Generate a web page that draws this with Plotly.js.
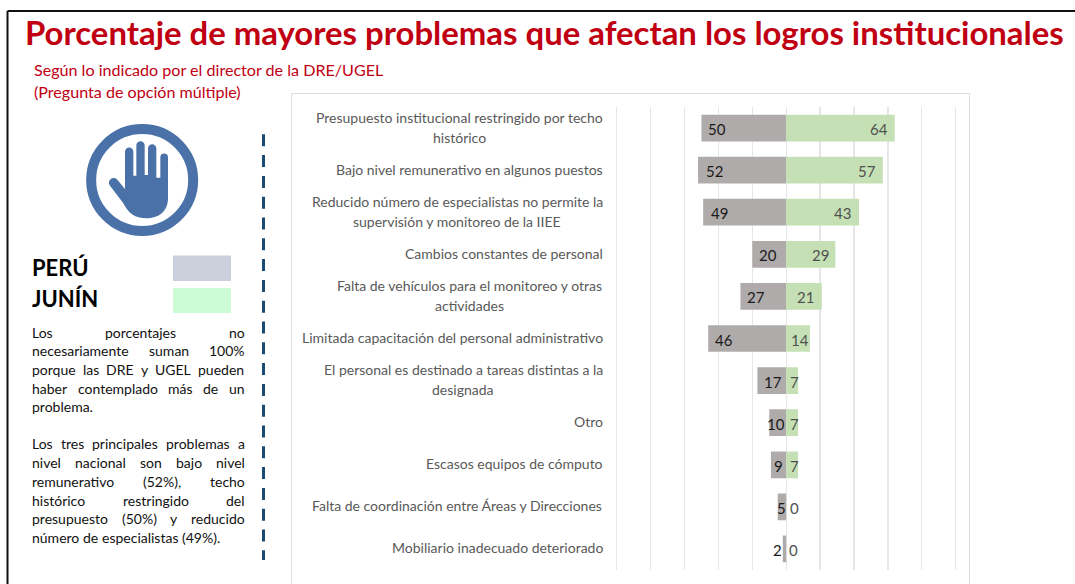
<!DOCTYPE html>
<html>
<head>
<meta charset="utf-8">
<script src="https://cdn.plot.ly/plotly-3.0.1.min.js"></script>
<style>
  html, body { margin: 0; padding: 0; background: #fff; }
</style>
</head>
<body>
<div id="chart" style="width:1075px;height:584px;"></div>
<script>
// chart values, top to bottom
var categories = [
  "Presupuesto institucional restringido por techo<br>histórico",
  "Bajo nivel remunerativo en algunos puestos",
  "Reducido número de especialistas no permite la<br>supervisión y monitoreo de la IIEE",
  "Cambios constantes de personal",
  "Falta de vehículos para el monitoreo y otras<br>actividades",
  "Limitada capacitación del personal administrativo",
  "El personal es destinado a tareas distintas a la<br>designada",
  "Otro",
  "Escasos equipos de cómputo",
  "Falta de coordinación entre Áreas y Direcciones",
  "Mobiliario inadecuado deteriorado"
];
var peru = [50, 52, 49, 20, 27, 46, 17, 10, 9, 5, 2];
var junin = [64, 57, 43, 29, 21, 14, 7, 7, 7, 0, 0];

// where the value labels sit relative to the bar end, in px (hand placed in the original)
var peruShift = [16, 16, 16, 16, 16, 16, 16, 7, 8, 4, -5];
var juninShift = [-16, -16, -17, -15, -16, -10, -4, -4, -4, 8, 7];

var titleText = "Porcentaje de mayores problemas que afectan los logros institucionales";
var subtitleLines = ["Según lo indicado por el director de la DRE/UGEL", "(Pregunta de opción múltiple)"];

// last line of each paragraph is not justified
var noteLines = [
  "Los porcentajes no",
  "necesariamente suman 100%",
  "porque las DRE y UGEL pueden",
  "haber contemplado más de un",
  "problema.",
  "Los tres principales problemas a",
  "nivel nacional son bajo nivel",
  "remunerativo (52%), techo",
  "histórico restringido del",
  "presupuesto (50%) y reducido",
  "número de especialistas (49%)."
];
var noteY = [332, 350.5, 369, 388, 406.5, 443.5, 462, 481, 500, 518.5, 537.5];

var W = 1075, H = 584;
var FONT = "Lato";
var RED = "#C00012";
var labelColor = "#595959";

function px(x) { return x / W; }
function py(y) { return 1 - y / H; }

var canvas = document.createElement("canvas").getContext("2d");
function textWidth(s, size) {
  canvas.font = size + "px " + FONT;
  return canvas.measureText(s).width;
}

function pageText(text, x, y, size, color, anchor, bold) {
  return {
    xref: "paper", yref: "paper", x: px(x), y: py(y),
    text: bold ? "<b>" + text + "</b>" : text,
    showarrow: false, xanchor: anchor || "left", yanchor: "middle",
    font: {family: FONT, size: size, color: color}
  };
}

var annotations = [];

annotations.push(pageText(titleText, 544, 33, 32.9, RED, "center", true));
annotations.push(pageText(subtitleLines[0], 32, 69.5, 16.1, RED));
annotations.push(pageText(subtitleLines[1], 32, 92, 16.1, RED));
annotations.push(pageText("PERÚ", 30, 267, 22, "#000", "left", true));
annotations.push(pageText("JUNÍN", 30, 298, 22, "#000", "left", true));

// justified note text, word by word
var noteSize = 14;
var noteLeft = 30, noteRight = 242.5;
noteLines.forEach(function (line, i) {
  var words = line.split(" ");
  var stretch = i != 4 && i != 10;
  var total = words.reduce(function (sum, w) { return sum + textWidth(w, noteSize); }, 0);
  var gap = stretch ? (noteRight - noteLeft - total) / (words.length - 1) : textWidth(" ", noteSize);
  var x = noteLeft;
  words.forEach(function (w) {
    annotations.push(pageText(w, x, noteY[i], noteSize, "#111"));
    x += textWidth(w, noteSize) + gap;
  });
});

// category labels: block ends at x=603, wrapped lines centred on each other
var labelSize = 14;
categories.forEach(function (cat, i) {
  var lines = cat.split("<br>");
  var widest = Math.max.apply(null, lines.map(function (l) { return textWidth(l, labelSize); }));
  lines.forEach(function (l, j) {
    annotations.push({
      xref: "paper", yref: "y", x: px(603 - widest / 2), y: cat,
      yshift: lines.length > 1 ? (j == 0 ? 11 : -9) : 1,
      text: l, showarrow: false, xanchor: "center", yanchor: "middle",
      font: {family: FONT, size: labelSize, color: labelColor}
    });
  });
});

// value labels
categories.forEach(function (cat, i) {
  annotations.push({
    x: -peru[i], y: cat, xref: "x", yref: "y", xshift: peruShift[i], yshift: -1,
    text: String(peru[i]), showarrow: false, xanchor: "center", yanchor: "middle",
    font: {family: FONT, size: 15, color: "#1a1a1a"}
  });
  annotations.push({
    x: junin[i], y: cat, xref: "x", yref: "y", xshift: juninShift[i], yshift: -1,
    text: String(junin[i]), showarrow: false, xanchor: "center", yanchor: "middle",
    font: {family: FONT, size: 15, color: "#505050"}
  });
});

function pageRect(x0, y0, x1, y1, fill) {
  return {type: "rect", xref: "paper", yref: "paper", layer: "below",
    x0: px(x0), x1: px(x1), y0: py(y0), y1: py(y1),
    fillcolor: fill, line: {width: 0}};
}
function pageLine(x0, y0, x1, y1, color, width, dash) {
  return {type: "line", xref: "paper", yref: "paper", layer: "below",
    x0: px(x0), x1: px(x1), y0: py(y0), y1: py(y1),
    line: {color: color, width: width, dash: dash || "solid"}};
}

var shapes = [
  // page frame
  pageLine(7.5, 11, 1075, 11, "#111", 2),
  pageLine(7.5, 11, 7.5, 584, "#111", 2),
  // chart box, runs off the bottom
  pageLine(291.5, 93.5, 969.5, 93.5, "#DEDEDE", 1),
  pageLine(291.5, 93.5, 291.5, 584, "#DEDEDE", 1),
  pageLine(969.5, 93.5, 969.5, 584, "#DEDEDE", 1),
  // divider
  pageLine(263.5, 134.3, 263.5, 560, "#1B4A73", 3, "12px,8.8px"),
  // legend swatches
  pageRect(173, 255.5, 231, 281, "#C9D0DC"),
  pageRect(173, 288, 231, 313, "#CCFCD5")
];

var handSvg = '<svg xmlns="http://www.w3.org/2000/svg" viewBox="0 0 375 390">' +
  '<circle cx="186.5" cy="195" r="153" fill="none" stroke="#4A72A8" stroke-width="30"/>' +
  '<path fill="#4A72A8" d="M135 110a12.5 12.5 0 0 1 25 0V182H169V91a12.5 12.5 0 0 1 25 0V180H204V100a12.5 12.5 0 0 1 25 0V188H241V127a11.5 11.5 0 0 1 23 0V250C264 290 235 310 200 310C165 310 145 295 130 265L90 212a13 13 0 0 1 22-18L135 222Z"/>' +
  '</svg>';

var traces = [
  {
    type: "bar", orientation: "h", name: "PERÚ", y: categories,
    x: peru.map(function (v) { return -v; }),
    marker: {color: "#AFABAB"}, hoverinfo: "skip"
  },
  {
    type: "bar", orientation: "h", name: "JUNÍN", y: categories,
    x: junin,
    marker: {color: "#C5E0B4"}, hoverinfo: "skip"
  }
];

var layout = {
  width: W, height: H,
  margin: {l: 0, r: 0, t: 0, b: 0},
  paper_bgcolor: "#fff", plot_bgcolor: "#fff",
  showlegend: false,
  barmode: "overlay",
  bargap: 0.365,
  font: {family: FONT},
  xaxis: {
    // range padded by 1 so plotly doesn't clip the gridlines at +-100
    domain: [px(615), px(957.4)],
    range: [-101, 101], dtick: 20, tick0: 0,
    showticklabels: false, ticks: "",
    showgrid: true, gridcolor: "#E6E6E6", gridwidth: 1.3,
    zeroline: false
  },
  yaxis: {
    domain: [py(570), py(107)],
    type: "category", categoryorder: "array", categoryarray: categories,
    range: [10.5, -0.5],
    showticklabels: false, ticks: "", showgrid: false, zeroline: false
  },
  shapes: shapes,
  annotations: annotations,
  images: [{
    source: "data:image/svg+xml;charset=utf-8," + encodeURIComponent(handSvg),
    xref: "paper", yref: "paper", x: px(80), y: py(115),
    sizex: 125 / W, sizey: 130 / H,
    sizing: "stretch", xanchor: "left", yanchor: "top", layer: "above"
  }]
};

Plotly.newPlot("chart", traces, layout, {displayModeBar: false, staticPlot: true});
</script>
</body>
</html>
